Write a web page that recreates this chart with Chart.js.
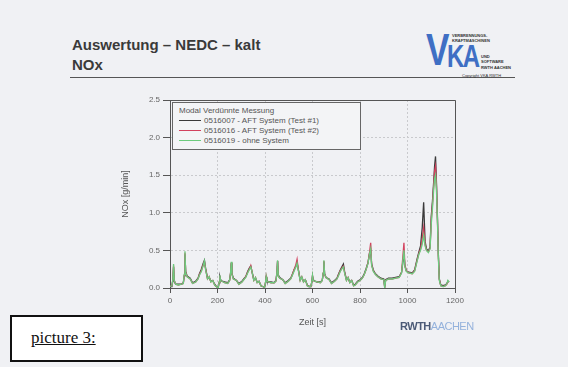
<!DOCTYPE html>
<html lang="de">
<head>
  <meta charset="utf-8">
  <title>Auswertung NEDC kalt NOx</title>
  <script src="https://cdn.jsdelivr.net/npm/chart.js@4/dist/chart.umd.min.js"></script>
  <style>
    body { margin: 0; width: 568px; height: 367px; background: #f0f1f4; position: relative; overflow: hidden; font-family: "Liberation Sans", Arial, sans-serif; }
    .titel { position: absolute; left: 72px; top: 35px; font-weight: bold; font-size: 15px; line-height: 20px; color: #3a3a3a; }
    .linie { position: absolute; left: 70px; top: 77px; width: 445px; height: 0; border-top: 1px solid #555; }
    .logo { position: absolute; left: 426px; top: 27px; width: 95px; height: 52px; }
    .logo .v { position: absolute; left: 0; top: -2px; font-size: 44px; font-weight: bold; color: #3f6fc4; transform: scaleX(0.8); transform-origin: 0 0; }
    .logo .ka { position: absolute; left: 21px; top: 11px; font-size: 32px; font-weight: bold; color: #3f6fc4; letter-spacing: -2px; transform: scaleX(0.75); transform-origin: 0 0; }
    .logo .klein { position: absolute; font-size: 4px; line-height: 5px; color: #333; white-space: nowrap; font-weight: bold; }
    #wrap { position: absolute; left: 116px; top: 92px; width: 354px; height: 240px; }
    .legende { position: absolute; left: 172px; top: 102px; width: 187px; height: 46px; border: 1px solid #666; background: #f3f4f6; font-size: 8px; color: #555; }
    .legende .kopf { position: absolute; left: 6px; top: 3px; }
    .legende .eintrag { position: absolute; left: 6px; white-space: nowrap; }
    .legende .strich { display: inline-block; width: 22px; height: 0; border-top: 1px solid; vertical-align: middle; margin-right: 3px; }
    .rwth { position: absolute; left: 400px; top: 320px; font-size: 11px; letter-spacing: -0.5px; }
    .rwth b { color: #4b5a76; }
    .rwth span { color: #94b2dc; }
    .bild { position: absolute; left: 10px; top: 315px; width: 129px; height: 43px; background: #fff; border: 2px solid #111; }
    .bild span { position: absolute; left: 19px; top: 11px; font-family: "Liberation Serif", "DejaVu Serif", serif; font-size: 17px; text-decoration: underline; color: #111; }
  </style>
</head>
<body>
  <div class="titel">Auswertung – NEDC – kalt<br>NOx</div>
  <div class="linie"></div>
  <div class="logo">
    <div class="v">V</div>
    <div class="ka">KA</div>
    <div class="klein" style="left:26px;top:6px">VERBRENNUNGS-</div>
    <div class="klein" style="left:26px;top:11px">KRAFTMASCHINEN</div>
    <div class="klein" style="left:55px;top:27px">UND</div>
    <div class="klein" style="left:55px;top:32px">SOFTWARE</div>
    <div class="klein" style="left:55px;top:38px">RWTH AACHEN</div>
    <div class="klein" style="left:36px;top:46px;font-weight:normal">Copyright VKA RWTH</div>
  </div>

  <div id="wrap"><canvas id="myChart"></canvas></div>
  <div class="legende" id="legende"></div>

  <div class="rwth"><b>RWTH</b><span>AACHEN</span></div>
  <div class="bild"><span>picture 3:</span></div>

  <script>
    // Zeit [s] - gemeinsame Stuetzstellen (4x ECE + EUDC)
    const zeit = [
      0,8,12,15,18,24,35,48,56,60,63,66,72,85,95,108,118,124,132,140,145,150,158,165,172,180,188,
      195,203,207,210,213,219,230,243,251,255,258,261,267,280,290,303,313,319,327,335,340,345,353,360,367,375,383,
      390,398,402,405,408,414,425,438,446,450,453,456,462,475,485,498,508,514,522,530,535,540,548,555,562,570,578,
      585,593,597,600,603,609,620,633,641,645,648,651,657,670,680,693,703,709,717,725,730,735,743,750,757,765,773,
      780,790,800,810,818,826,834,840,845,849,856,865,875,888,900,904,908,920,935,950,
      965,975,980,985,989,995,1005,1020,1030,1040,1048,1055,1062,1068,1074,1080,1088,1095,1100,1105,
      1110,1114,1118,1122,1126,1130,1134,1140,1150,1160,1166,1170,1175
    ];

    // 0516007 - AFT System (Test #1)
    const test1 = [
      0.02,0.02,0.10,0.28,0.09,0.05,0.05,0.05,0.07,0.16,0.45,0.22,0.16,0.13,0.07,0.09,0.13,0.19,0.25,0.33,0.37,0.26,0.13,0.14,0.09,0.10,0.05,
      0.02,0.01,0.07,0.15,0.11,0.09,0.08,0.07,0.11,0.19,0.33,0.19,0.13,0.10,0.06,0.09,0.13,0.15,0.22,0.27,0.29,0.22,0.11,0.13,0.08,0.09,0.03,
      0.02,0.01,0.06,0.14,0.10,0.08,0.08,0.07,0.10,0.19,0.36,0.17,0.14,0.11,0.07,0.10,0.13,0.17,0.24,0.29,0.34,0.25,0.11,0.14,0.09,0.11,0.04,
      0.02,0.02,0.07,0.16,0.11,0.09,0.08,0.08,0.10,0.19,0.35,0.19,0.14,0.12,0.07,0.10,0.13,0.18,0.24,0.29,0.32,0.22,0.11,0.13,0.08,0.10,0.04,
      0.05,0.09,0.11,0.14,0.19,0.26,0.34,0.46,0.50,0.32,0.24,0.19,0.16,0.13,0.12,0.02,0.11,0.13,0.13,0.14,
      0.15,0.21,0.33,0.46,0.30,0.23,0.21,0.20,0.24,0.38,0.48,0.56,0.80,1.14,0.62,0.52,0.49,0.55,0.95,1.15,
      1.40,1.62,1.75,1.40,0.95,0.45,0.12,0.04,0.03,0.04,0.06,0.09,0.08
    ];

    // 0516016 - AFT System (Test #2)
    const test2 = [
      0.02,0.03,0.11,0.30,0.10,0.05,0.04,0.05,0.06,0.17,0.47,0.21,0.15,0.12,0.06,0.08,0.12,0.18,0.23,0.31,0.35,0.25,0.12,0.15,0.08,0.10,0.04,
      0.02,0.00,0.08,0.16,0.10,0.09,0.07,0.06,0.10,0.20,0.34,0.18,0.12,0.10,0.05,0.08,0.12,0.15,0.21,0.26,0.30,0.22,0.10,0.14,0.07,0.09,0.03,
      0.02,0.01,0.07,0.15,0.09,0.08,0.07,0.07,0.09,0.20,0.36,0.16,0.13,0.11,0.06,0.09,0.12,0.17,0.24,0.31,0.38,0.25,0.10,0.15,0.08,0.11,0.03,
      0.02,0.02,0.08,0.16,0.10,0.09,0.08,0.07,0.10,0.20,0.36,0.18,0.14,0.11,0.06,0.09,0.12,0.17,0.23,0.27,0.29,0.21,0.10,0.14,0.07,0.10,0.03,
      0.04,0.08,0.10,0.13,0.18,0.25,0.34,0.47,0.60,0.31,0.23,0.18,0.15,0.12,0.11,0.01,0.10,0.12,0.12,0.13,
      0.14,0.21,0.40,0.60,0.30,0.23,0.20,0.19,0.23,0.36,0.46,0.52,0.66,0.80,0.58,0.50,0.48,0.53,0.90,1.10,
      1.35,1.55,1.62,1.35,0.92,0.42,0.11,0.03,0.02,0.03,0.05,0.09,0.08
    ];

    // 0516019 - ohne System
    const ohneSystem = [
      0.02,0.03,0.12,0.32,0.10,0.05,0.04,0.05,0.06,0.18,0.49,0.20,0.15,0.12,0.06,0.08,0.12,0.17,0.22,0.30,0.36,0.24,0.12,0.15,0.08,0.10,0.04,
      0.02,0.00,0.08,0.17,0.10,0.09,0.07,0.06,0.10,0.20,0.35,0.18,0.12,0.10,0.05,0.08,0.12,0.14,0.20,0.25,0.28,0.22,0.10,0.14,0.07,0.09,0.03,
      0.02,0.01,0.07,0.15,0.09,0.08,0.07,0.07,0.09,0.20,0.37,0.16,0.13,0.11,0.06,0.09,0.12,0.16,0.22,0.28,0.33,0.24,0.10,0.15,0.08,0.11,0.03,
      0.02,0.02,0.08,0.17,0.10,0.09,0.08,0.07,0.10,0.20,0.37,0.18,0.14,0.11,0.06,0.09,0.12,0.16,0.22,0.26,0.28,0.20,0.10,0.14,0.07,0.10,0.03,
      0.04,0.08,0.10,0.13,0.18,0.25,0.33,0.45,0.52,0.30,0.22,0.18,0.15,0.12,0.11,0.00,0.10,0.12,0.12,0.13,
      0.14,0.20,0.35,0.50,0.28,0.22,0.20,0.19,0.22,0.35,0.45,0.50,0.58,0.70,0.56,0.50,0.47,0.52,0.85,1.05,
      1.30,1.45,1.50,1.30,0.90,0.40,0.10,0.03,0.02,0.03,0.06,0.10,0.08
    ];

    const namen = ['0516007 - AFT System (Test #1)', '0516016 - AFT System (Test #2)', '0516019 - ohne System'];
    const farben = ['#3a3a3a', '#d2425e', '#6ccb7d'];
    const xTicks = [0, 200, 400, 600, 800, 1000, 1200];
    const yTicks = [0.0, 0.5, 1.0, 1.5, 2.0, 2.5];

    function punkte(werte) {
      return zeit.map((t, i) => ({ x: t, y: werte[i] }));
    }

    // Rahmen oben und rechts
    const rahmen = {
      id: 'rahmen',
      afterDraw(chart) {
        const a = chart.chartArea, ctx = chart.ctx;
        ctx.save();
        ctx.strokeStyle = '#555';
        ctx.lineWidth = 1;
        ctx.beginPath();
        ctx.moveTo(a.left, a.top + 0.5);
        ctx.lineTo(a.right + 0.5, a.top + 0.5);
        ctx.lineTo(a.right + 0.5, a.bottom);
        ctx.stroke();
        ctx.restore();
      }
    };

    // gruen oben, schwarz unten
    const reihen = [test1, test2, ohneSystem];
    const datasets = reihen.map((r, i) => ({
      label: namen[i],
      data: punkte(r),
      borderColor: farben[i],
      borderWidth: 1.3,
      pointRadius: 0,
      fill: false,
      tension: 0,
      order: 2 - i
    }));

    const config = {
      type: 'line',
      data: { datasets: datasets },
      options: {
        responsive: true,
        maintainAspectRatio: false,
        animation: false,
        layout: { padding: { top: 8, right: 15, left: 0, bottom: 0 } },
        plugins: { legend: { display: false }, tooltip: { enabled: false } },
        scales: {
          x: {
            type: 'linear', min: 0, max: 1200,
            afterBuildTicks: s => { s.ticks = xTicks.map(v => ({ value: v })); },
            afterFit: s => { s.height = 44; },
            ticks: { color: '#666', font: { size: 8, family: 'Liberation Sans' }, padding: 3, maxRotation: 0, callback: v => String(v) },
            grid: { color: '#c9cacd', tickColor: '#555', tickLength: 5, tickBorderDash: [] },
            border: { color: '#555', width: 1, dash: [2, 2] },
            title: { display: true, text: 'Zeit [s]', color: '#555', font: { size: 9, family: 'Liberation Sans' }, padding: { top: 3 } }
          },
          y: {
            min: 0, max: 2.5,
            afterBuildTicks: s => { s.ticks = yTicks.map(v => ({ value: v })); },
            afterFit: s => { s.width = 54; },
            ticks: { color: '#666', font: { size: 8, family: 'Liberation Sans' }, padding: 3, callback: v => v.toFixed(1) },
            grid: { color: '#c9cacd', tickColor: '#555', tickLength: 7, tickBorderDash: [] },
            border: { color: '#555', width: 1, dash: [2, 2] },
            title: { display: true, text: 'NOx [g/min]', color: '#555', font: { size: 9, family: 'Liberation Sans' }, padding: { top: 4, bottom: 0 } }
          }
        }
      },
      plugins: [rahmen]
    };

    new Chart(document.getElementById('myChart'), config);

    // Legende mit Kopfzeile
    const leg = document.getElementById('legende');
    leg.innerHTML = '<div class="kopf">Modal Verdünnte Messung</div>';
    namen.forEach((n, i) => {
      const d = document.createElement('div');
      d.className = 'eintrag';
      d.style.top = (13 + i * 10) + 'px';
      d.innerHTML = '<span class="strich" style="border-color:' + farben[i] + '"></span>' + n;
      leg.appendChild(d);
    });
  </script>
</body>
</html>
